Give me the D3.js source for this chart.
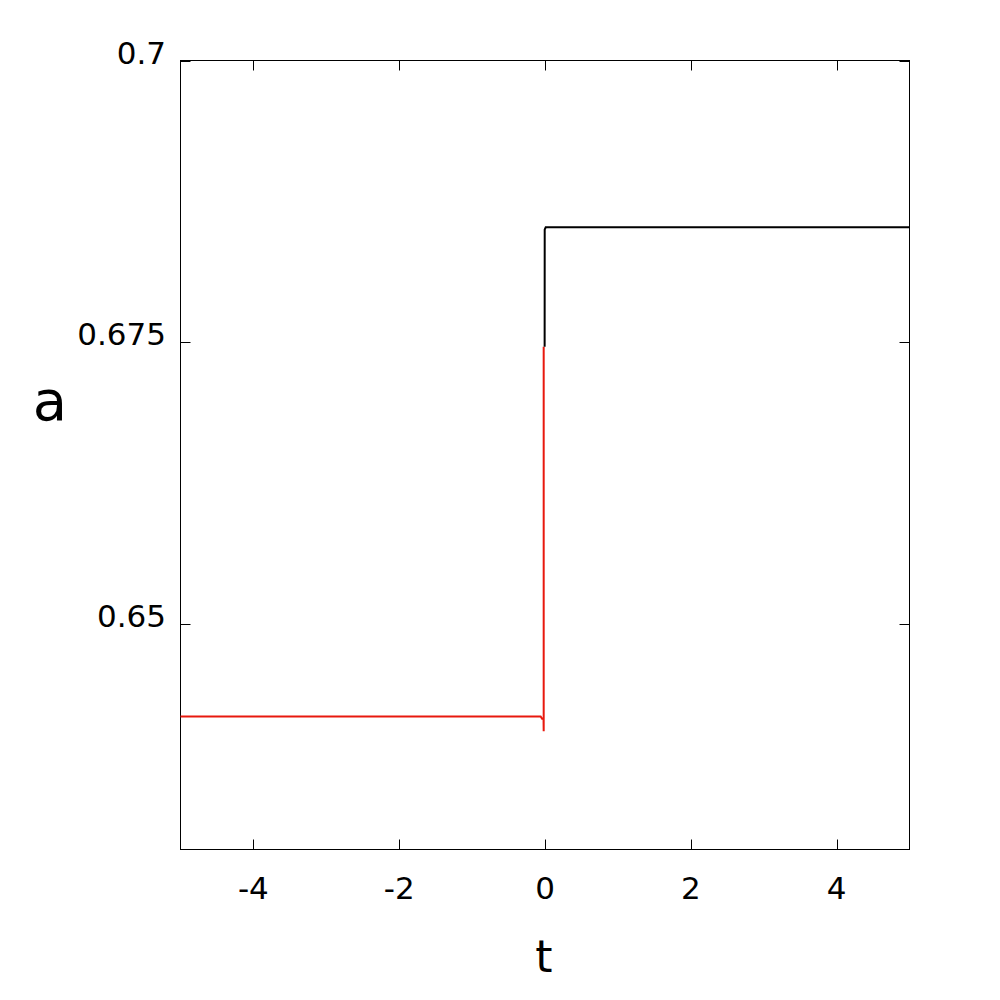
<!DOCTYPE html>
<html><head><meta charset="utf-8">
<script src="https://cdn.jsdelivr.net/npm/d3@7"></script>
<style>body{margin:0;background:#fff}</style>
</head><body>
<svg id="c" width="1000" height="1000"></svg>
<script>
const xTicks = [-4, -2, 0, 2, 4];
const yTicks = [0.65, 0.675, 0.7];
const yTickLabels = ["0.65", "0.675", "0.7"];
const redT = [-5, -0.06, -0.04, -0.02, -0.018, -0.018];
const redA = [0.6418, 0.6418, 0.6416, 0.6416, 0.6405, 0.6746];
const blackT = [-0.005, -0.004, 0.01, 5];
const blackA = [0.6746, 0.6850, 0.6852, 0.6852];

const svg = d3.select("#c");
const L = 180.5, R = 909.5, T = 60.5, B = 849.5;
const x = d3.scaleLinear().domain([-5, 5]).range([L, R]);
const y = d3.scaleLinear().domain([0.63, 0.7]).range([B, T]);
const font = "'DejaVu Sans', sans-serif";

svg.append("rect").attr("x", L).attr("y", T).attr("width", R - L).attr("height", B - T)
  .attr("fill", "none").attr("stroke", "#000").attr("stroke-width", 1);

const tl = 10;
const g = svg.append("g").attr("stroke", "#000").attr("stroke-width", 1);
xTicks.forEach(t => {
  const px = Math.round(x(t)) + 0.5;
  g.append("line").attr("x1", px).attr("x2", px).attr("y1", B).attr("y2", B - tl);
  g.append("line").attr("x1", px).attr("x2", px).attr("y1", T).attr("y2", T + tl);
});
yTicks.forEach(v => {
  const py = Math.round(y(v)) + 0.5;
  g.append("line").attr("x1", L).attr("x2", L + tl).attr("y1", py).attr("y2", py);
  g.append("line").attr("x1", R).attr("x2", R - tl).attr("y1", py).attr("y2", py);
});

xTicks.forEach(t => {
  svg.append("text").attr("x", x(t)).attr("y", B + 49).attr("text-anchor", "middle")
    .attr("font-family", font).attr("font-size", 31).text(String(t));
});
yTicks.forEach((v, i) => {
  svg.append("text").attr("x", 166).attr("y", y(v) + 3).attr("text-anchor", "end")
    .attr("font-family", font).attr("font-size", 31).text(yTickLabels[i]);
});

svg.append("text").attr("x", 50).attr("y", 420).attr("text-anchor", "middle")
  .attr("font-family", font).attr("font-size", 56).text("a");
svg.append("text").attr("x", 544).attr("y", 972).attr("text-anchor", "middle")
  .attr("font-family", font).attr("font-size", 44).text("t");

const line = d3.line().x(d => x(d[0])).y(d => y(d[1]));
const redData = redT.map((t, i) => [t, redA[i]]);
const blackData = blackT.map((t, i) => [t, blackA[i]]);
svg.append("path").datum(redData).attr("d", line).attr("fill", "none")
  .attr("stroke", "#e8190e").attr("stroke-width", 2);
svg.append("path").datum(blackData).attr("d", line).attr("fill", "none")
  .attr("stroke", "#000").attr("stroke-width", 2);
</script>
</body></html>
